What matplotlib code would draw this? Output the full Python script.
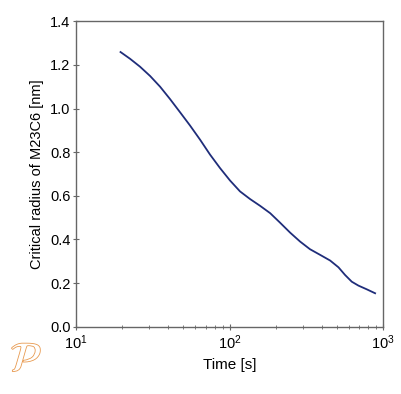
import matplotlib
matplotlib.use("Agg")
import matplotlib.pyplot as plt
import matplotlib.patheffects as pe
from matplotlib.ticker import LogLocator

plt.rcParams['font.family'] = ['Liberation Sans', 'DejaVu Sans']

time_s = [19.5, 22.5, 26.1, 30.4, 35.3, 40.9, 47.6, 55.3, 64.3, 74.6, 86.7, 100.7,
          117, 136, 158, 184, 213, 248, 288, 334, 389, 452, 512, 565, 625, 691, 783, 887]
radius_nm = [1.259, 1.228, 1.192, 1.149, 1.100, 1.044, 0.983, 0.922, 0.857, 0.789, 0.727, 0.670,
             0.620, 0.585, 0.554, 0.520, 0.477, 0.431, 0.390, 0.355, 0.329, 0.303, 0.272, 0.237,
             0.206, 0.188, 0.171, 0.153]
y_ticks = [0.0, 0.2, 0.4, 0.6, 0.8, 1.0, 1.2, 1.4]

fig = plt.figure(figsize=(4.02, 3.94), dpi=100)
ax = fig.add_axes([0.189, 0.171, 0.764, 0.775])
ax.plot(time_s, radius_nm, color='#1f2d7a', lw=1.3)
ax.set_xscale('log')
ax.set_xlim(10, 1000)
ax.set_ylim(0, 1.4)
ax.set_yticks(y_ticks)
ax.set_yticklabels([f"{v:.1f}" for v in y_ticks])
ax.xaxis.set_minor_locator(LogLocator(base=10, subs=range(2, 10)))
for s in ax.spines.values():
    s.set_color('#666666')
    s.set_linewidth(1.0)
ax.tick_params(which='major', direction='inout', length=4, width=0.8, color='#666666', labelsize=10.5)
ax.tick_params(axis='x', which='major', pad=3)
ax.tick_params(axis='y', which='major', pad=2)
ax.tick_params(which='minor', direction='inout', length=3, width=0.6, color='#666666')
ax.set_xlabel('Time [s]', fontsize=11, labelpad=4)
ax.set_ylabel('Critical radius of M23C6 [nm]', fontsize=10.5, labelpad=4)

fig.text(0.065, 0.085, r'$\mathcal{P}$', fontsize=30, color='white', ha='center', va='center',
         path_effects=[pe.Stroke(linewidth=1.2, foreground='#e89a50'), pe.Normal()])

fig.savefig('out.png', dpi=100)
